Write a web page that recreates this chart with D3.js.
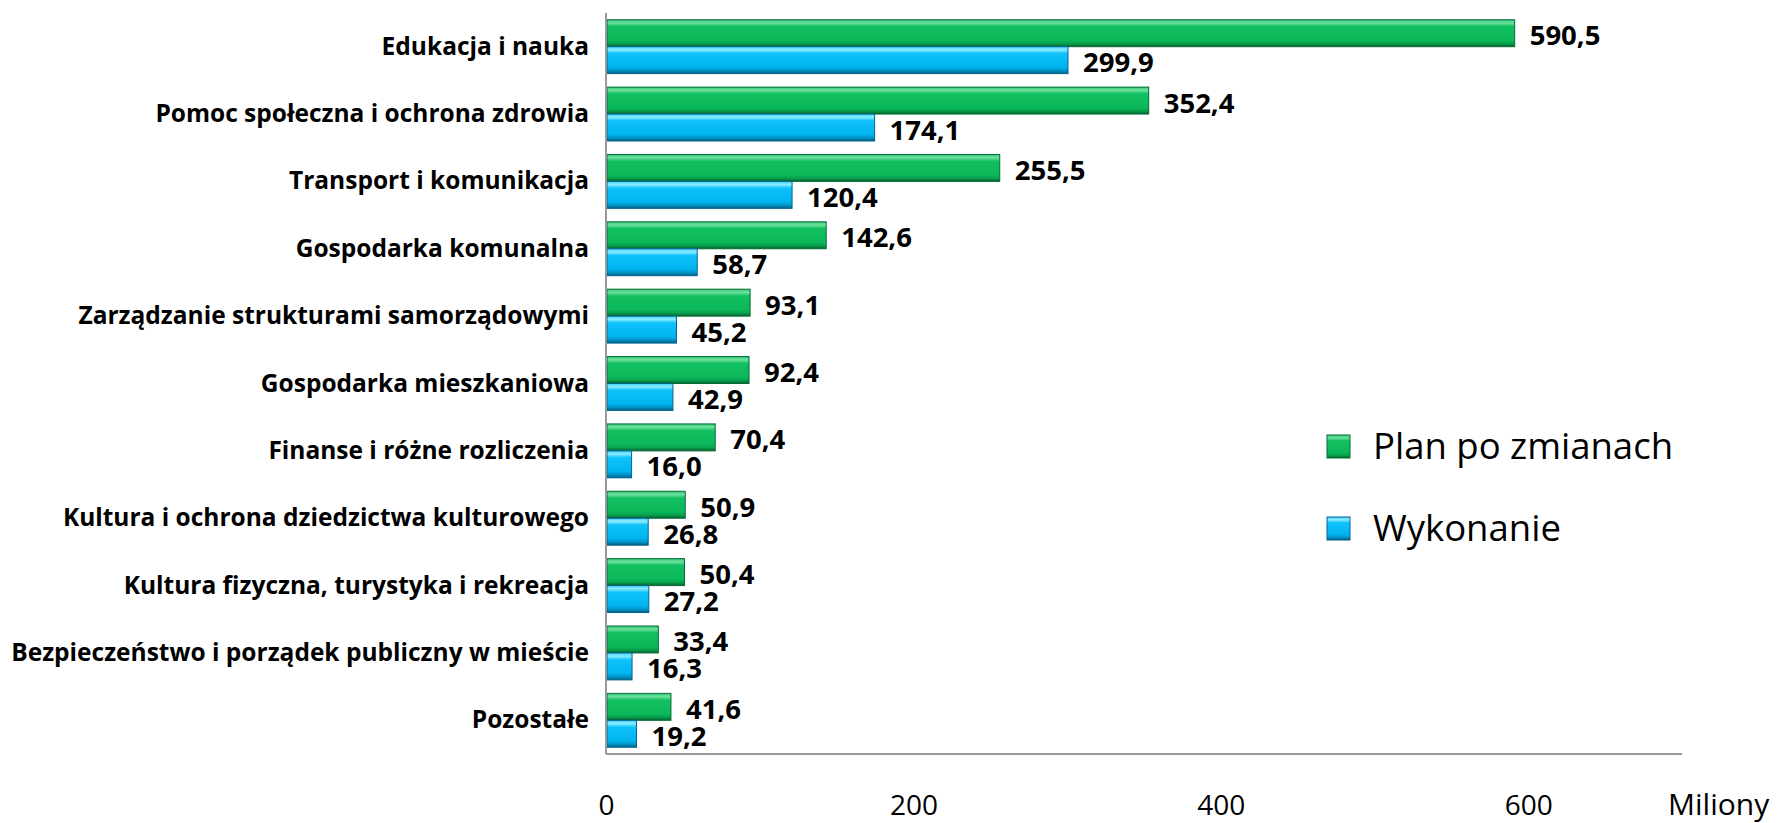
<!DOCTYPE html>
<html>
    <head>
        <title>Wydatki</title>
        <meta charset="UTF-8">
        <style>
            body {margin:0; background:#fff;}
            text {font-family: "Open Sans", sans-serif; fill: #000;}
            .cat {font-size: 24.5px; font-weight: bold; text-anchor: end;}
            .val {font-size: 27.5px; font-weight: bold;}
            .tick text {font-size: 28px;}
            .leg {font-size: 36.5px;}
        </style>
        <script src="https://cdn.jsdelivr.net/npm/d3@7"></script>
    </head>
    <body>
        <svg width="1783" height="823"></svg>

        <script>
            // dane
            var categories = ["Edukacja i nauka", "Pomoc społeczna i ochrona zdrowia", "Transport i komunikacja",
                "Gospodarka komunalna", "Zarządzanie strukturami samorządowymi", "Gospodarka mieszkaniowa",
                "Finanse i różne rozliczenia", "Kultura i ochrona dziedzictwa kulturowego",
                "Kultura fizyczna, turystyka i rekreacja", "Bezpieczeństwo i porządek publiczny w mieście", "Pozostałe"];
            var plan = [590.5, 352.4, 255.5, 142.6, 93.1, 92.4, 70.4, 50.9, 50.4, 33.4, 41.6];
            var wykonanie = [299.9, 174.1, 120.4, 58.7, 45.2, 42.9, 16.0, 26.8, 27.2, 16.3, 19.2];
            var seriesNames = ["Plan po zmianach", "Wykonanie"];
            var xTicks = [0, 200, 400, 600];

            var svg = d3.select("svg"),
                margin = {top: 13, right: 101, bottom: 69, left: 606},
                width = +svg.attr("width") - margin.left - margin.right,
                height = +svg.attr("height") - margin.top - margin.bottom;

            //... gradienty imitujace efekt wypuklenia
            var defs = svg.append("defs");
            function grad(id, stops) {
                var g = defs.append("linearGradient").attr("id", id)
                    .attr("x1", 0).attr("y1", 0).attr("x2", 0).attr("y2", 1);
                stops.forEach(s => g.append("stop").attr("offset", s[0]).attr("stop-color", s[1]));
            }
            grad("gGreen", [[0, "#2fc874"], [0.12, "#6ee09e"], [0.25, "#12c062"], [0.75, "#0bb85a"], [0.88, "#08a24e"], [1, "#05602f"]]);
            grad("gBlue", [[0, "#3cd2ff"], [0.12, "#8cecff"], [0.25, "#10c2fb"], [0.75, "#00b4ef"], [0.88, "#0096c9"], [1, "#005f84"]]);
            var fills = ["url(#gGreen)", "url(#gBlue)"],
                edges = ["#046b33", "#00658d"];

            var g = svg.append("g").attr("transform", "translate(" + margin.left + "," + margin.top + ")");

            var x = d3.scaleLinear().domain([0, 700]).range([0, width]);
            var y = d3.scaleBand().domain(categories).range([0, height]).paddingInner(0.2).paddingOuter(0.1);
            var ys = d3.scaleBand().domain([0, 1]).range([0, y.bandwidth()]);

            var rows = categories.map((c, i) => ({cat: c, vals: [plan[i], wykonanie[i]]}));

            var row = g.selectAll(".row").data(rows).enter().append("g")
                .attr("transform", d => "translate(0," + y(d.cat) + ")");

            row.selectAll("rect").data(d => d.vals).enter().append("rect")
                .attr("x", 1)
                .attr("y", (d, i) => ys(i))
                .attr("width", d => x(d))
                .attr("height", ys.bandwidth())
                .attr("fill", (d, i) => fills[i])
                .attr("stroke", (d, i) => edges[i])
                .attr("stroke-width", 1);

            row.selectAll(".val").data(d => d.vals).enter().append("text")
                .attr("class", "val")
                .attr("x", d => x(d) + 16)
                .attr("y", (d, i) => ys(i) + ys.bandwidth() / 2 + 12)
                .text(d => d3.format(".1f")(d).replace(".", ","));

            // etykiety kategorii
            g.selectAll(".cat").data(categories).enter().append("text")
                .attr("class", "cat")
                .attr("x", -17)
                .attr("y", d => y(d) + y.bandwidth() / 2 + 8)
                .text(d => d);

            // osie
            g.append("line").attr("x1", 0).attr("x2", 0).attr("y1", 0).attr("y2", height)
                .attr("stroke", "#999").attr("stroke-width", 2);
            g.append("line").attr("x1", 0).attr("x2", width).attr("y1", height).attr("y2", height)
                .attr("stroke", "#999").attr("stroke-width", 2);

            var xAxis = g.append("g").attr("class", "tick-axis")
                .attr("transform", "translate(0," + height + ")")
                .call(d3.axisBottom(x).tickValues(xTicks).tickSize(0).tickPadding(41).tickFormat(d3.format("d")));
            xAxis.select(".domain").remove();
            xAxis.selectAll("text").attr("font-family", null).attr("font-size", null).attr("fill", "#000");

            g.append("text").attr("x", width - 14).attr("y", height + 61)
                .style("font-size", "30px").text("Miliony");

            // legenda
            var leg = svg.append("g").attr("transform", "translate(1327,435)");
            var li = leg.selectAll("g").data(seriesNames).enter().append("g")
                .attr("transform", (d, i) => "translate(0," + i * 82 + ")");
            li.append("rect").attr("width", 23).attr("height", 23)
                .attr("fill", (d, i) => fills[i]).attr("stroke", (d, i) => edges[i]);
            li.append("text").attr("class", "leg").attr("x", 46).attr("y", 24).text(d => d);
        </script>
    </body>
</html>
